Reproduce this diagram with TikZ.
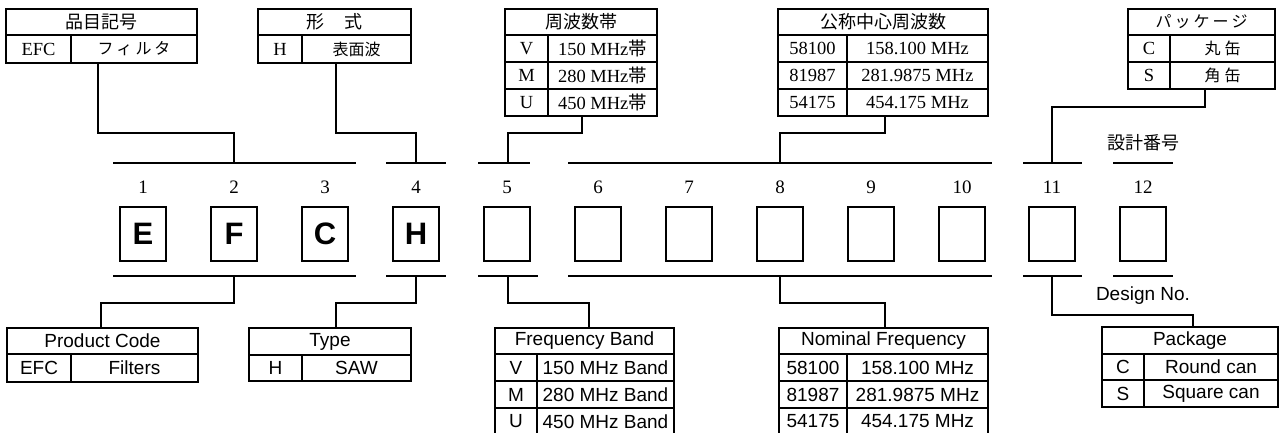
\documentclass[tikz,border=0pt]{standalone}
\usepackage{fontspec}
\setmainfont{Liberation Serif}
\setsansfont{Liberation Sans}
\newfontfamily\jp{Noto Sans CJK JP}
\tikzset{
  cell/.style={draw, line width=1.4pt, inner sep=0pt, outer sep=0pt, anchor=north west},
  jhead/.style={font=\jp\fontsize{18}{20}\selectfont},
  jrow/.style={font=\jp\fontsize{16}{18}\selectfont},
  serifrow/.style={font=\fontsize{18.5}{20}\selectfont},
  sansrow/.style={font=\sffamily\fontsize{19}{21}\selectfont},
  digitbox/.style={draw, line width=1.3pt, minimum width=46pt, minimum height=54pt, inner sep=0pt,
    font=\sffamily\bfseries\fontsize{31}{33}\selectfont},
  num/.style={font=\fontsize{19}{21}\selectfont},
  brk/.style={line width=1.6pt},
  conn/.style={line width=1.2pt},
}
\begin{document}
\begin{tikzpicture}[x=1pt,y=-1pt]
\useasboundingbox (0,0) rectangle (1280,432);
\fill[white] (0,0) rectangle (1280,432);

% ---------- top tables ----------
% 品目記号
\node[cell,jhead,minimum width=191pt,minimum height=26pt] (pc-h) at (6,9) {品目記号};
\node[cell,serifrow,minimum width=65pt,minimum height=28pt] (pc-k) at (6,35) {EFC};
\node[cell,jrow,minimum width=126pt,minimum height=28pt] (pc-v) at (71,35) {フ\hspace{3pt}ィ\hspace{3pt}ル\hspace{3pt}タ};
% 形式
\node[cell,jhead,minimum width=153pt,minimum height=26pt] (ty-h) at (258,9) {形\hspace{20pt}式};
\node[cell,serifrow,minimum width=44pt,minimum height=28pt] (ty-k) at (258,35) {H};
\node[cell,jrow,minimum width=109pt,minimum height=28pt] (ty-v) at (302,35) {表面波};
% 周波数帯
\node[cell,jhead,minimum width=152pt,minimum height=26pt] (fb-h) at (505,9) {周波数帯};
\node[cell,serifrow,minimum width=43pt,minimum height=27pt] (fb-k1) at (505,35) {V};
\node[cell,serifrow,minimum width=109pt,minimum height=27pt] (fb-v1) at (548,35) {150 MHz{\jp 帯}};
\node[cell,serifrow,minimum width=43pt,minimum height=27pt] (fb-k2) at (505,62) {M};
\node[cell,serifrow,minimum width=109pt,minimum height=27pt] (fb-v2) at (548,62) {280 MHz{\jp 帯}};
\node[cell,serifrow,minimum width=43pt,minimum height=27pt] (fb-k3) at (505,89) {U};
\node[cell,serifrow,minimum width=109pt,minimum height=27pt] (fb-v3) at (548,89) {450 MHz{\jp 帯}};
% 公称中心周波数
\node[cell,jhead,minimum width=210pt,minimum height=26pt] (nf-h) at (778,9) {公称中心周波数};
\node[cell,serifrow,minimum width=69pt,minimum height=27pt] (nf-k1) at (778,35) {58100};
\node[cell,serifrow,minimum width=141pt,minimum height=27pt] (nf-v1) at (847,35) {158.100 MHz};
\node[cell,serifrow,minimum width=69pt,minimum height=27pt] (nf-k2) at (778,62) {81987};
\node[cell,serifrow,minimum width=141pt,minimum height=27pt] (nf-v2) at (847,62) {281.9875 MHz};
\node[cell,serifrow,minimum width=69pt,minimum height=27pt] (nf-k3) at (778,89) {54175};
\node[cell,serifrow,minimum width=141pt,minimum height=27pt] (nf-v3) at (847,89) {454.175 MHz};
% パッケージ
\node[cell,jhead,font=\jp\fontsize{16}{18}\selectfont,minimum width=147pt,minimum height=26pt] (pk-h) at (1128,9) {パ\hspace{3pt}ッ\hspace{3pt}ケ\hspace{3pt}ー\hspace{3pt}ジ};
\node[cell,serifrow,minimum width=42pt,minimum height=27pt] (pk-k1) at (1128,35) {C};
\node[cell,jrow,minimum width=105pt,minimum height=27pt] (pk-v1) at (1170,35) {丸\hspace{4pt}缶};
\node[cell,serifrow,minimum width=42pt,minimum height=27pt] (pk-k2) at (1128,62) {S};
\node[cell,jrow,minimum width=105pt,minimum height=27pt] (pk-v2) at (1170,62) {角\hspace{4pt}缶};

% ---------- bracket attachment points ----------
\coordinate (g1t) at (234,163);  \coordinate (g1b) at (234,276);
\coordinate (g4t) at (416,163);  \coordinate (g4b) at (416,276);
\coordinate (g5t) at (508,163);  \coordinate (g5b) at (508,276);
\coordinate (g8t) at (780,163);  \coordinate (g8b) at (780,276);
\coordinate (g11t) at (1052,163); \coordinate (g11b) at (1052,276);

% brackets (top and bottom)
\foreach \y in {163,276}{
  \draw[brk] (113,\y) -- (356,\y);
  \draw[brk] (386,\y) -- (446,\y);
  \draw[brk] (568,\y) -- (992,\y);
  \draw[brk] (1023,\y) -- (1082,\y);
  \draw[brk] (1113,\y) -- (1173,\y);
}
\draw[brk] (478,163) -- (530,163);
\draw[brk] (478,276) -- (538,276);

% ---------- digit boxes and numbers ----------
\foreach \i/\x/\t in {1/143/E,2/234/F,3/325/C,4/416/H,5/507/{},6/598/{},7/689/{},8/780/{},9/871/{},10/962/{},11/1052/{},12/1143/{}}{
  \node[num] (n\i) at (\x,187) {\i};
  \node[digitbox] (d\i) at (\x,234) {\t};
}

\node[jhead] (sj) at (1143,143) {設計番号};
\node[sansrow] (dn) at (1143,296) {Design No.};

% ---------- top connectors ----------
\draw[conn] ([xshift=27pt]pc-k.south east) -- ++(0,70) -| (g1t);
\draw[conn] ([xshift=34pt]ty-k.south east) -- ++(0,70) -| (g4t);
\draw[conn] ([xshift=34pt]fb-k3.south east) -- ++(0,17) -| (g5t);
\draw[conn] ([xshift=38pt]nf-k3.south east) -- ++(0,17) -| (g8t);
\draw[conn] ([xshift=35pt]pk-k2.south east) -- ++(0,18) -| (g11t);

% ---------- bottom tables ----------
% Product Code
\node[cell,sansrow,minimum width=191pt,minimum height=26pt] (pcb-h) at (7,328) {Product Code};
\node[cell,sansrow,minimum width=64pt,minimum height=28pt] (pcb-k) at (7,354) {EFC};
\node[cell,sansrow,minimum width=127pt,minimum height=28pt] (pcb-v) at (71,354) {Filters};
% Type
\node[cell,sansrow,minimum width=162pt,minimum height=27pt] (tyb-h) at (249,328) {Type};
\node[cell,sansrow,minimum width=53pt,minimum height=26pt] (tyb-k) at (249,355) {H};
\node[cell,sansrow,minimum width=109pt,minimum height=26pt] (tyb-v) at (302,355) {SAW};
% Frequency Band
\node[cell,sansrow,minimum width=179pt,minimum height=26pt] (fbb-h) at (495,328) {Frequency Band};
\node[cell,sansrow,minimum width=42pt,minimum height=27pt] (fbb-k1) at (495,354) {V};
\node[cell,sansrow,minimum width=137pt,minimum height=27pt] (fbb-v1) at (537,354) {150 MHz Band};
\node[cell,sansrow,minimum width=42pt,minimum height=27pt] (fbb-k2) at (495,381) {M};
\node[cell,sansrow,minimum width=137pt,minimum height=27pt] (fbb-v2) at (537,381) {280 MHz Band};
\node[cell,sansrow,minimum width=42pt,minimum height=27pt] (fbb-k3) at (495,408) {U};
\node[cell,sansrow,minimum width=137pt,minimum height=27pt] (fbb-v3) at (537,408) {450 MHz Band};
% Nominal Frequency
\node[cell,sansrow,minimum width=209pt,minimum height=26pt] (nfb-h) at (779,328) {Nominal Frequency};
\node[cell,sansrow,minimum width=68pt,minimum height=27pt] (nfb-k1) at (779,354) {58100};
\node[cell,sansrow,minimum width=141pt,minimum height=27pt] (nfb-v1) at (847,354) {158.100 MHz};
\node[cell,sansrow,minimum width=68pt,minimum height=27pt] (nfb-k2) at (779,381) {81987};
\node[cell,sansrow,minimum width=141pt,minimum height=27pt] (nfb-v2) at (847,381) {281.9875 MHz};
\node[cell,sansrow,minimum width=68pt,minimum height=27pt] (nfb-k3) at (779,408) {54175};
\node[cell,sansrow,minimum width=141pt,minimum height=27pt] (nfb-v3) at (847,408) {454.175 MHz};
% Package
\node[cell,sansrow,minimum width=176pt,minimum height=27pt] (pkb-h) at (1102,327) {Package};
\node[cell,sansrow,minimum width=42pt,minimum height=26pt] (pkb-k1) at (1102,354) {C};
\node[cell,sansrow,minimum width=134pt,minimum height=26pt] (pkb-v1) at (1144,354) {Round can};
\node[cell,sansrow,minimum width=42pt,minimum height=27pt] (pkb-k2) at (1102,380) {S};
\node[cell,sansrow,minimum width=134pt,minimum height=27pt] (pkb-v2) at (1144,380) {Square can};

% ---------- bottom connectors ----------
\draw[conn] (g1b) -- ++(0,27) -| ([xshift=-1.5pt]pcb-h.north);
\draw[conn] (g4b) -- ++(0,27) -| ([xshift=6pt]tyb-h.north);
\draw[conn] (g5b) -- ++(0,27) -| ([xshift=4.5pt]fbb-h.north);
\draw[conn] (g8b) -- ++(0,27) -| ([xshift=1.5pt]nfb-h.north);
\draw[conn] (g11b) -- ++(0,39) -| ([xshift=3pt]pkb-h.north);
\end{tikzpicture}
\end{document}
